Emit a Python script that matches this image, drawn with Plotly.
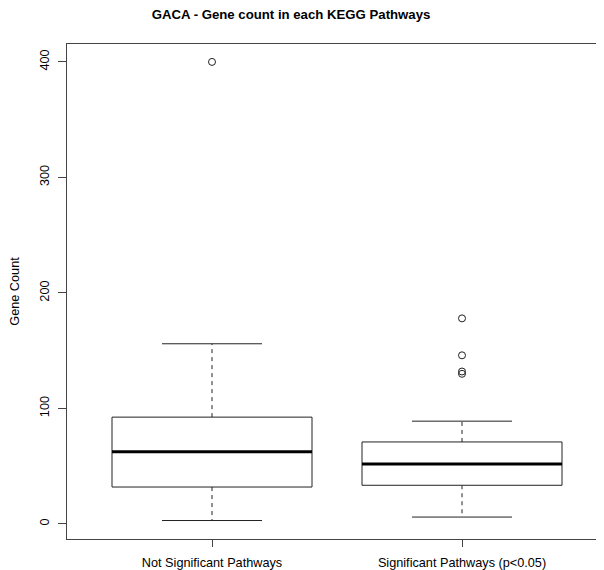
import plotly.graph_objects as go

# ---- data ----
categories = ["Not Significant Pathways", "Significant Pathways (p<0.05)"]
lower_whisker = [3, 6]
q1 = [32, 33.5]
median = [62.5, 52]
q3 = [92.5, 71]
upper_whisker = [156, 89]
outliers_not_significant = [400]
outliers_significant = [178, 146, 132, 130]
y_ticks = [0, 100, 200, 300, 400]

title_text = "GACA - Gene count in each KEGG Pathways"
y_title = "Gene Count"

# ---- style ----
BOX_HALF = 0.4
CAP_HALF = 0.2
FONT = "Liberation Sans, Arial, Helvetica, sans-serif"
LINE = "#222222"
FS = 12.7
W, H = 596, 562  # page body has an 8px margin

fig = go.Figure()
positions = [1, 2]
outlier_sets = [outliers_not_significant, outliers_significant]

for i, pos in enumerate(positions):
    # dashed whiskers
    fig.add_trace(go.Scatter(
        x=[pos, pos, None, pos, pos],
        y=[q3[i], upper_whisker[i], None, q1[i], lower_whisker[i]],
        mode="lines", line=dict(color=LINE, width=1, dash="4px,4px"),
        hoverinfo="skip", showlegend=False))
    # whisker caps
    fig.add_trace(go.Scatter(
        x=[pos - CAP_HALF, pos + CAP_HALF, None, pos - CAP_HALF, pos + CAP_HALF],
        y=[upper_whisker[i], upper_whisker[i], None, lower_whisker[i], lower_whisker[i]],
        mode="lines", line=dict(color=LINE, width=1),
        hoverinfo="skip", showlegend=False))
    # box
    fig.add_trace(go.Scatter(
        x=[pos - BOX_HALF, pos + BOX_HALF, pos + BOX_HALF, pos - BOX_HALF, pos - BOX_HALF],
        y=[q1[i], q1[i], q3[i], q3[i], q1[i]],
        mode="lines", fill="toself", fillcolor="white",
        line=dict(color=LINE, width=1),
        hoverinfo="skip", showlegend=False))
    # median
    fig.add_trace(go.Scatter(
        x=[pos - BOX_HALF, pos + BOX_HALF],
        y=[median[i], median[i]],
        mode="lines", line=dict(color="black", width=3),
        hoverinfo="skip", showlegend=False))
    # outliers
    fig.add_trace(go.Scatter(
        x=[pos] * len(outlier_sets[i]), y=outlier_sets[i],
        mode="markers",
        marker=dict(symbol="circle-open", size=7, color=LINE, line=dict(width=1, color=LINE)),
        showlegend=False))

fig.update_layout(
    width=W, height=H,
    margin=dict(l=59, r=1, t=36, b=31, autoexpand=False),
    paper_bgcolor="white", plot_bgcolor="white",
    font=dict(family=FONT, size=FS, color="black"),
    title=dict(text="<b>" + title_text + "</b>", x=283 / W, xref="container",
               xanchor="center", y=1 - 6 / H, yref="container", yanchor="middle",
               automargin=False,
               font=dict(family=FONT, size=13.2, color="black")),
    showlegend=False,
)
fig.update_xaxes(
    range=[0.42, 2.564], tickvals=positions, ticktext=categories,
    showgrid=False, zeroline=False, showline=True, mirror=True, automargin=False,
    linecolor="#444444", linewidth=1, ticks="outside", ticklen=7,
    tickcolor="#444444", ticklabelstandoff=5,
    tickfont=dict(family=FONT, size=FS, color="black"),
)
fig.update_yaxes(
    range=[-13, 415.5], tickvals=y_ticks, ticktext=[str(v) for v in y_ticks],
    tickangle=-90, showgrid=False, zeroline=False, showline=True, mirror=True,
    automargin=False,
    linecolor="#444444", linewidth=1, ticks="outside", ticklen=8,
    tickcolor="#444444", ticklabelstandoff=4,
    tickfont=dict(family=FONT, size=FS, color="black"),
    title=dict(text=y_title, standoff=18, font=dict(family=FONT, size=FS, color="black")),
)

fig.write_html("out.html")
